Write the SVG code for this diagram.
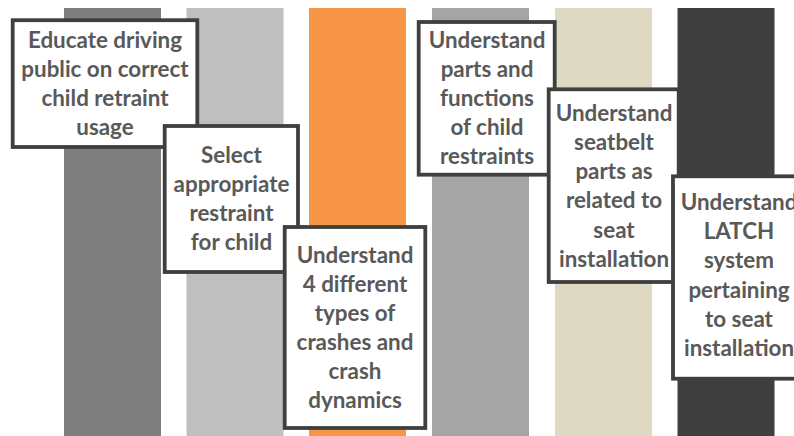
<svg xmlns="http://www.w3.org/2000/svg" width="794" height="436" viewBox="0 0 794 436">
  <style>
    .box { fill: #ffffff; stroke: #3f3f3f; stroke-width: 3.8; }
    .lbl { font-family: "Lato", "Liberation Sans", sans-serif; font-weight: bold; font-size: 22.4px; fill: #595959; text-anchor: middle; }
  </style>
  <rect width="794" height="436" fill="#ffffff"/>

  <!-- vertical columns -->
  <g id="columns">
    <rect x="64" y="8" width="97" height="428" fill="#7f7f7f"/>
    <rect x="186.5" y="8" width="97" height="428" fill="#bfbfbf"/>
    <rect x="309" y="8" width="97" height="428" fill="#f79646"/>
    <rect x="432" y="8" width="97" height="428" fill="#a5a5a5"/>
    <rect x="555" y="8" width="97" height="428" fill="#ddd9c3"/>
    <rect x="677.5" y="8" width="97" height="428" fill="#3f3f3f"/>
  </g>

  <g id="step1">
    <rect class="box" x="12.7" y="20.2" width="184.6" height="126.8"/>
    <text class="lbl" x="105" y="48">Educate driving</text>
    <text class="lbl" x="105" y="77">public on correct</text>
    <text class="lbl" x="105" y="106">child retraint</text>
    <text class="lbl" x="105" y="135">usage</text>
  </g>

  <g id="step2">
    <rect class="box" x="164.7" y="126" width="133.3" height="146"/>
    <text class="lbl" x="231.5" y="163">Select</text>
    <text class="lbl" x="231.5" y="192">appropriate</text>
    <text class="lbl" x="231.5" y="221">restraint</text>
    <text class="lbl" x="231.5" y="250">for child</text>
  </g>

  <g id="step3">
    <rect class="box" x="284.7" y="227" width="140.6" height="201"/>
    <text class="lbl" x="355" y="263">Understand</text>
    <text class="lbl" x="355" y="292">4 different</text>
    <text class="lbl" x="355" y="321">types of</text>
    <text class="lbl" x="355" y="350">crashes and</text>
    <text class="lbl" x="355" y="379">crash</text>
    <text class="lbl" x="355" y="408">dynamics</text>
  </g>

  <g id="step4">
    <rect class="box" x="418.7" y="22" width="136" height="152.7"/>
    <text class="lbl" x="487" y="48">Understand</text>
    <text class="lbl" x="487" y="77">parts and</text>
    <text class="lbl" x="487" y="106">functions</text>
    <text class="lbl" x="487" y="135">of child</text>
    <text class="lbl" x="487" y="164">restraints</text>
  </g>

  <g id="step5">
    <rect class="box" x="548.7" y="89.3" width="130" height="192.7"/>
    <text class="lbl" x="614" y="121">Understand</text>
    <text class="lbl" x="614" y="150">seatbelt</text>
    <text class="lbl" x="614" y="179">parts as</text>
    <text class="lbl" x="614" y="208">related to</text>
    <text class="lbl" x="614" y="238">seat</text>
    <text class="lbl" x="614" y="267">installation</text>
  </g>

  <g id="step6">
    <rect class="box" x="673" y="176.3" width="136" height="202.4"/>
    <text class="lbl" x="739" y="210">Understand</text>
    <text class="lbl" x="739" y="239">LATCH</text>
    <text class="lbl" x="739" y="268">system</text>
    <text class="lbl" x="739" y="298">pertaining</text>
    <text class="lbl" x="739" y="327">to seat</text>
    <text class="lbl" x="739" y="356">installation</text>
  </g>

  <g id="connectors"/>
</svg>
